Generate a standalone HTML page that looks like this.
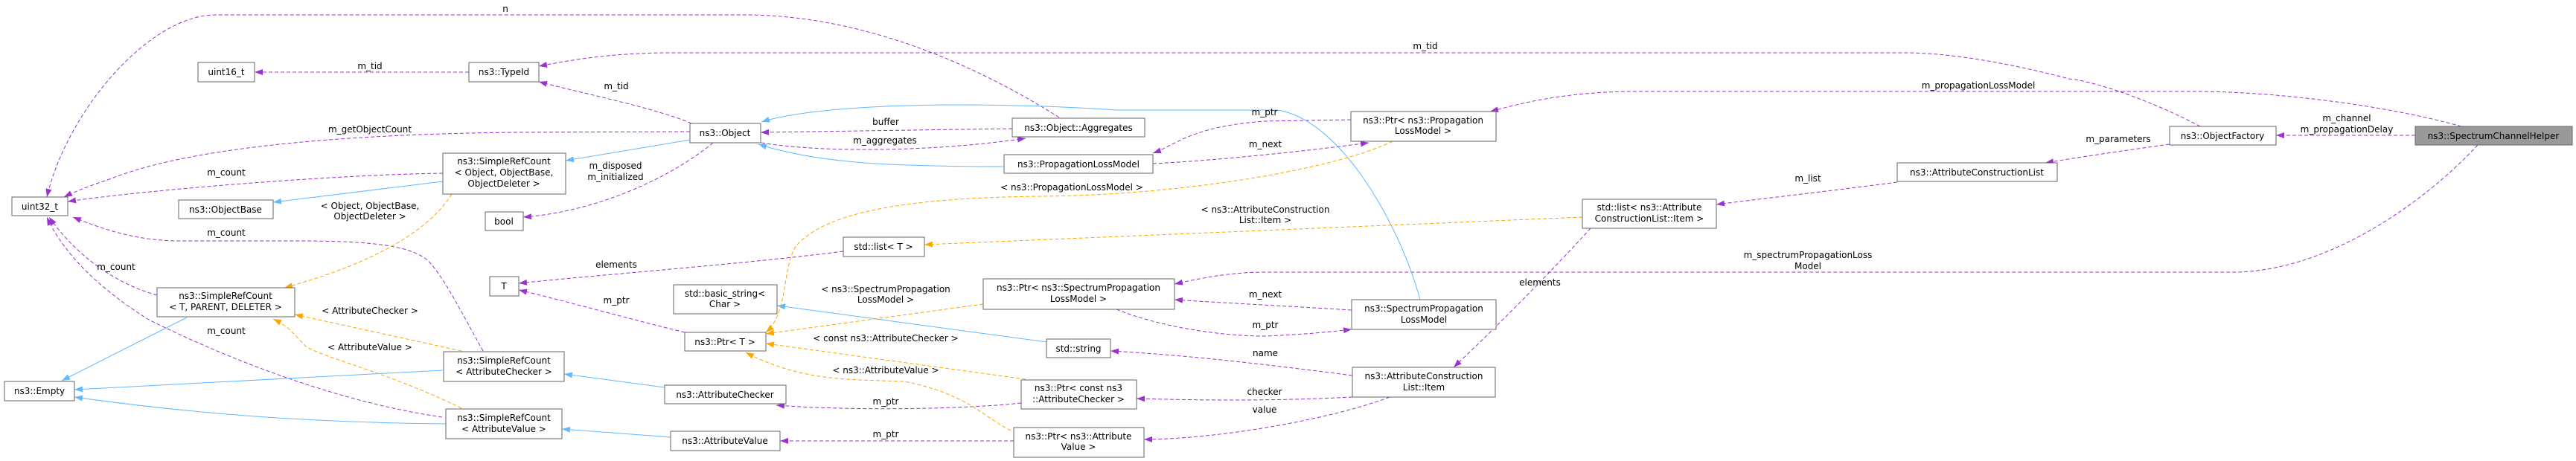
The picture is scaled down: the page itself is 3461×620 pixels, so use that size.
<!DOCTYPE html>
<html><head><meta charset="utf-8"><style>
html,body{margin:0;padding:0;background:#fff;}
svg{display:block;}
text{font-family:"DejaVu Sans","Liberation Sans",sans-serif;font-size:12px;fill:#000;}
.p{fill:none;stroke:#9a32cd;stroke-width:1;stroke-dasharray:5,3;}
.o{fill:none;stroke:#ffa500;stroke-width:1;stroke-dasharray:5,3;}
.b{fill:none;stroke:#63b8ff;stroke-width:1;}
rect{fill:#fff;stroke:#666;stroke-width:1;}
</style></head><body>
<svg width="3461" height="620" viewBox="0 0 3461 620" xmlns="http://www.w3.org/2000/svg">
<defs>
<marker id="mp" markerUnits="userSpaceOnUse" markerWidth="11" markerHeight="8" refX="11" refY="4" orient="auto"><path d="M0,0 L11,4 L0,8 z" fill="#9a32cd"/></marker>
<marker id="mo" markerUnits="userSpaceOnUse" markerWidth="11" markerHeight="8" refX="11" refY="4" orient="auto"><path d="M0,0 L11,4 L0,8 z" fill="#ffa500"/></marker>
<marker id="mb" markerUnits="userSpaceOnUse" markerWidth="11" markerHeight="8" refX="11" refY="4" orient="auto"><path d="M0,0 L11,4 L0,8 z" fill="#63b8ff"/></marker>
</defs>
<g marker-end="url(#mp)">
<path class="p" d="M1423,158 C1300,80 1150,20 1000,20 L290,20 C200,20 90,150 63,265"/>
<path class="p" d="M2956,170 C2900,140 2820,110 2780,106 C2700,85 2620,71 2560,71 L900,71 C820,71 760,82 724,89"/>
<path class="p" d="M3307,170 C3200,140 3050,123 2950,123 L2200,123 C2100,123 2040,140 2002,150"/>
<path class="p" d="M3245,182 L3058,182"/>
<path class="p" d="M2915,194 C2850,203 2790,212 2748,219"/>
<path class="p" d="M2549,245 C2450,258 2360,268 2306,275"/>
<path class="p" d="M3329,195 C3250,280 3120,366 3000,366 L1700,366 C1650,366 1610,375 1578,382"/>
<path class="p" d="M2137,307 C2080,370 2000,450 1953,494"/>
<path class="p" d="M1815,161 L1700,163 C1600,170 1580,195 1549,206"/>
<path class="p" d="M1549,220 C1650,215 1780,200 1839,192"/>
<path class="p" d="M1816,417 C1700,410 1620,406 1578,403"/>
<path class="p" d="M1500,416 C1560,440 1640,452 1700,452 C1750,450 1790,446 1816,443"/>
<path class="p" d="M1817,505 C1700,490 1600,478 1492,472"/>
<path class="p" d="M1817,534 C1700,540 1600,538 1527,536"/>
<path class="p" d="M1867,534 C1800,560 1650,590 1537,591"/>
<path class="p" d="M1360,173 L1022,178"/>
<path class="p" d="M1023,192 C1100,205 1250,205 1378,186"/>
<path class="p" d="M1372,542 C1300,550 1150,553 1043,545"/>
<path class="p" d="M1362,593 L1048,593"/>
<path class="p" d="M1133,338 C1000,355 800,370 697,381"/>
<path class="p" d="M920,447 C850,430 760,405 697,390"/>
<path class="p" d="M929,166 C880,145 780,125 724,110"/>
<path class="p" d="M630,97 L342,97"/>
<path class="p" d="M927,177 L700,178 C450,180 250,200 150,240 C120,250 100,258 86,265"/>
<path class="p" d="M595,233 C450,235 200,255 91,271"/>
<path class="p" d="M958,192 C900,240 800,285 703,292"/>
<path class="p" d="M649,472 C620,420 600,380 580,356 C560,330 500,324 400,324 L240,324 C180,324 130,305 98,292"/>
<path class="p" d="M211,397 C150,380 100,340 66,292"/>
<path class="p" d="M594,561 C450,540 300,480 200,430 C120,380 80,330 63,292"/>
</g>
<g marker-end="url(#mb)">
<path class="b" d="M1908,403 C1880,300 1800,160 1716,148 L1500,148 C1300,135 1100,140 1023,164"/>
<path class="b" d="M1349,224 C1200,224 1100,220 1019,194"/>
<path class="b" d="M927,188 L760,216"/>
<path class="b" d="M595,244 L367,272"/>
<path class="b" d="M1406,460 L1044,411"/>
<path class="b" d="M893,521 L758,503"/>
<path class="b" d="M901,588 L755,577"/>
<path class="b" d="M251,427 L83,512"/>
<path class="b" d="M595,498 L100,524"/>
<path class="b" d="M599,570 C400,568 250,555 100,534"/>
</g>
<g marker-end="url(#mo)">
<path class="o" d="M1871,190 C1800,225 1600,262 1400,264 C1200,266 1108,289 1070,330 C1050,360 1060,420 1029,447"/>
<path class="o" d="M2126,292 L1242,329"/>
<path class="o" d="M1321,409 L1029,449"/>
<path class="o" d="M1378,510 L1029,462"/>
<path class="o" d="M1358,579 C1320,560 1300,530 1215,513 C1150,510 1080,515 1002,474"/>
<path class="o" d="M607,261 C570,320 480,360 382,387"/>
<path class="o" d="M620,472 L396,423"/>
<path class="o" d="M620,549 C520,500 430,480 410,465 C395,450 390,440 367,429"/>
</g>

<rect x="16" y="265" width="75" height="25"/><text x="53.5" y="282" text-anchor="middle">uint32_t</text>
<rect x="266" y="84" width="76" height="26"/><text x="304" y="101" text-anchor="middle">uint16_t</text>
<rect x="630" y="84" width="94" height="26"/><text x="677" y="101" text-anchor="middle">ns3::TypeId</text>
<rect x="595" y="206" width="165" height="55"/><text x="677" y="221" text-anchor="middle">ns3::SimpleRefCount</text><text x="677" y="236" text-anchor="middle">&lt; Object, ObjectBase,</text><text x="677" y="251" text-anchor="middle">ObjectDeleter &gt;</text>
<rect x="240" y="269" width="127" height="25"/><text x="303" y="286" text-anchor="middle">ns3::ObjectBase</text>
<rect x="652" y="285" width="51" height="25"/><text x="677" y="302" text-anchor="middle">bool</text>
<rect x="658" y="372" width="39" height="26"/><text x="677" y="389" text-anchor="middle">T</text>
<rect x="211" y="387" width="185" height="39"/><text x="303" y="402" text-anchor="middle">ns3::SimpleRefCount</text><text x="303" y="417" text-anchor="middle">&lt; T, PARENT, DELETER &gt;</text>
<rect x="596" y="473" width="162" height="40"/><text x="677" y="489" text-anchor="middle">ns3::SimpleRefCount</text><text x="677" y="504" text-anchor="middle">&lt; AttributeChecker &gt;</text>
<rect x="6" y="513" width="94" height="26"/><text x="53" y="530" text-anchor="middle">ns3::Empty</text>
<rect x="599" y="550" width="156" height="40"/><text x="677" y="566" text-anchor="middle">ns3::SimpleRefCount</text><text x="677" y="581" text-anchor="middle">&lt; AttributeValue &gt;</text>
<rect x="927" y="166" width="95" height="26"/><text x="974" y="183" text-anchor="middle">ns3::Object</text>
<rect x="1360" y="159" width="178" height="25"/><text x="1449" y="176" text-anchor="middle">ns3::Object::Aggregates</text>
<rect x="1349" y="208" width="200" height="25"/><text x="1449" y="225" text-anchor="middle">ns3::PropagationLossModel</text>
<rect x="1133" y="319" width="109" height="26"/><text x="1187" y="336" text-anchor="middle">std::list&lt; T &gt;</text>
<rect x="905" y="383" width="139" height="39"/><text x="974" y="399" text-anchor="middle">std::basic_string&lt;</text><text x="974" y="413" text-anchor="middle">Char &gt;</text>
<rect x="920" y="447" width="109" height="25"/><text x="974" y="464" text-anchor="middle">ns3::Ptr&lt; T &gt;</text>
<rect x="1321" y="375" width="257" height="41"/><text x="1449" y="391" text-anchor="middle">ns3::Ptr&lt; ns3::SpectrumPropagation</text><text x="1449" y="406" text-anchor="middle">LossModel &gt;</text>
<rect x="1406" y="456" width="86" height="25"/><text x="1449" y="473" text-anchor="middle">std::string</text>
<rect x="1372" y="511" width="155" height="39"/><text x="1449" y="526" text-anchor="middle">ns3::Ptr&lt; const ns3</text><text x="1449" y="541" text-anchor="middle">::AttributeChecker &gt;</text>
<rect x="893" y="518" width="163" height="25"/><text x="974" y="535" text-anchor="middle">ns3::AttributeChecker</text>
<rect x="1362" y="575" width="175" height="40"/><text x="1449" y="591" text-anchor="middle">ns3::Ptr&lt; ns3::Attribute</text><text x="1449" y="605" text-anchor="middle">Value &gt;</text>
<rect x="901" y="580" width="147" height="26"/><text x="974" y="597" text-anchor="middle">ns3::AttributeValue</text>
<rect x="1815" y="150" width="195" height="40"/><text x="1912" y="166" text-anchor="middle">ns3::Ptr&lt; ns3::Propagation</text><text x="1912" y="180" text-anchor="middle">LossModel &gt;</text>
<rect x="1816" y="403" width="194" height="40"/><text x="1913" y="419" text-anchor="middle">ns3::SpectrumPropagation</text><text x="1913" y="434" text-anchor="middle">LossModel</text>
<rect x="1817" y="494" width="192" height="40"/><text x="1913" y="510" text-anchor="middle">ns3::AttributeConstruction</text><text x="1913" y="525" text-anchor="middle">List::Item</text>
<rect x="2126" y="268" width="180" height="39"/><text x="2216" y="283" text-anchor="middle">std::list&lt; ns3::Attribute</text><text x="2216" y="298" text-anchor="middle">ConstructionList::Item &gt;</text>
<rect x="2549" y="219" width="215" height="25"/><text x="2656" y="236" text-anchor="middle">ns3::AttributeConstructionList</text>
<rect x="2915" y="170" width="143" height="25"/><text x="2986" y="187" text-anchor="middle">ns3::ObjectFactory</text>
<rect x="3245" y="170" width="211" height="25" style="fill:#999"/><text x="3350" y="187" text-anchor="middle">ns3::SpectrumChannelHelper</text>

<g text-anchor="middle">
<text x="679" y="16">n</text>
<text x="497" y="93">m_tid</text>
<text x="828" y="120">m_tid</text>
<text x="1915" y="66">m_tid</text>
<text x="497" y="178">m_getObjectCount</text>
<text x="304" y="236">m_count</text>
<text x="497" y="281">&lt; Object, ObjectBase,</text>
<text x="497" y="295">ObjectDeleter &gt;</text>
<text x="827" y="227">m_disposed</text>
<text x="827" y="242">m_initialized</text>
<text x="304" y="317">m_count</text>
<text x="156" y="363">m_count</text>
<text x="304" y="449">m_count</text>
<text x="497" y="422">&lt; AttributeChecker &gt;</text>
<text x="497" y="471">&lt; AttributeValue &gt;</text>
<text x="828" y="360">elements</text>
<text x="828" y="408">m_ptr</text>
<text x="1190" y="168">buffer</text>
<text x="1189" y="193">m_aggregates</text>
<text x="1440" y="256">&lt; ns3::PropagationLossModel &gt;</text>
<text x="1190" y="393">&lt; ns3::SpectrumPropagation</text>
<text x="1190" y="407">LossModel &gt;</text>
<text x="1190" y="459">&lt; const ns3::AttributeChecker &gt;</text>
<text x="1190" y="502">&lt; ns3::AttributeValue &gt;</text>
<text x="1190" y="544">m_ptr</text>
<text x="1190" y="588">m_ptr</text>
<text x="1699" y="155">m_ptr</text>
<text x="1700" y="198">m_next</text>
<text x="1700" y="286">&lt; ns3::AttributeConstruction</text>
<text x="1700" y="300">List::Item &gt;</text>
<text x="1700" y="400">m_next</text>
<text x="1700" y="441">m_ptr</text>
<text x="1700" y="479">name</text>
<text x="1699" y="531">checker</text>
<text x="1699" y="555">value</text>
<text x="2069" y="384">elements</text>
<text x="2658" y="119">m_propagationLossModel</text>
<text x="2429" y="244">m_list</text>
<text x="2429" y="347">m_spectrumPropagationLoss</text>
<text x="2429" y="362">Model</text>
<text x="2846" y="191">m_parameters</text>
<text x="3153" y="163">m_channel</text>
<text x="3153" y="178">m_propagationDelay</text>
</g>
</svg>
</body></html>
